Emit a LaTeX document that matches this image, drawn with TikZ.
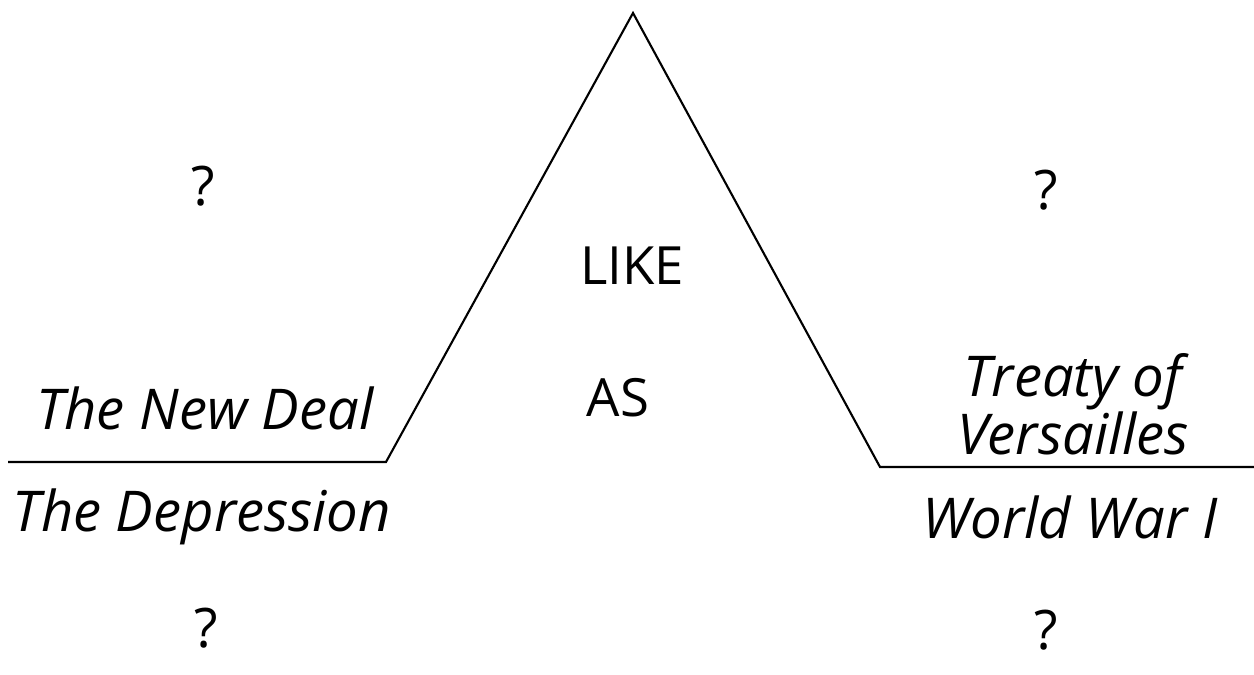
\documentclass[tikz,border=0pt]{standalone}
\usepackage{fontspec}
\setmainfont{Open Sans}
\usetikzlibrary{positioning}

\begin{document}
\begin{tikzpicture}[
  x=0.02cm, y=-0.02cm,
  bridge/.style={line width=1.2pt, line join=miter},
  word/.style={font=\fontsize{32}{30}\selectfont\itshape, align=center, inner sep=0pt},
  qmark/.style={font=\fontsize{31}{36}\selectfont, inner sep=0pt},
  relfac/.style={font=\fontsize{30}{36}\selectfont, inner sep=0pt}
]
\useasboundingbox (0,0) rectangle (1254,675);
% bridge line
\coordinate (lstart) at (8,462);
\coordinate (lfoot) at (386,462);
\coordinate (apex) at (633,13);
\coordinate (rfoot) at (880,467);
\coordinate (rend) at (1254,467);
\draw[bridge] (lstart) -- (lfoot) -- (apex) -- (rfoot) -- (rend);
% relating factor
\node[relfac] (like) at (632,266) {LIKE};
\node[relfac] (as) at (618,398) {AS};
% first pair
\node[word] (newdeal) at (205,408) {The New Deal};
\node[word] (depression) at (202,517) {The Depression};
% second pair
\node[word] (treaty) at (1073,404) {Treaty of\\Versailles};
\node[word] (wwone) at (1070,517) {World War I};
% unknowns
\node[qmark] (q1) at (203,186) {?};
\node[qmark] (q2) at (1046,190) {?};
\node[qmark] (q3) at (206,628) {?};
\node[qmark] (q4) at (1046,630) {?};
\end{tikzpicture}
\end{document}
